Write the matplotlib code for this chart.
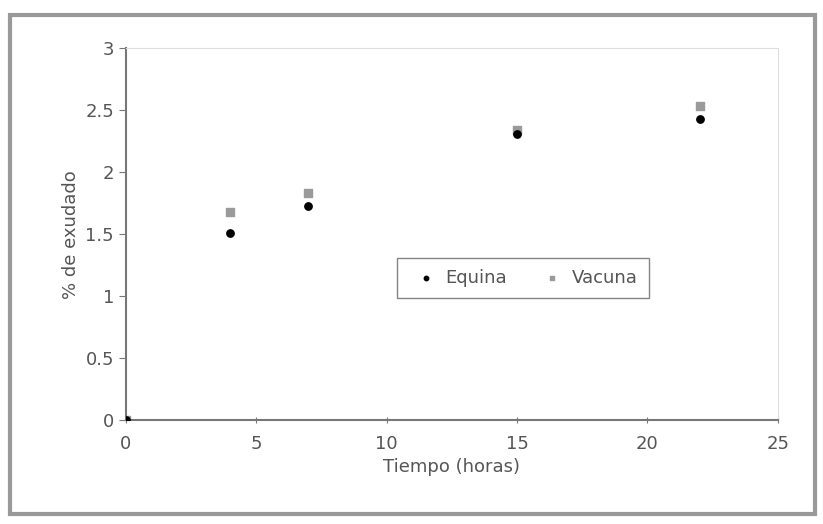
import matplotlib
matplotlib.use("Agg")
import matplotlib.pyplot as plt
from matplotlib.patches import Rectangle

# datos
tiempo = [0, 4, 7, 15, 22]
equina = [0, 1.51, 1.73, 2.31, 2.43]
vacuna = [0, 1.68, 1.83, 2.34, 2.53]

x_ticks = [0, 5, 10, 15, 20, 25]
y_ticks = [0, 0.5, 1, 1.5, 2, 2.5, 3]
y_labels = ["0", "0.5", "1", "1.5", "2", "2.5", "3"]

txt = "#555555"

fig = plt.figure(figsize=(8.23, 5.24), dpi=100)
ax = fig.add_axes([0.153, 0.198, 0.792, 0.71])

ax.scatter(tiempo, equina, marker="o", s=28, color="black", label="Equina", zorder=3)
ax.scatter(tiempo, vacuna, marker="s", s=30, color="#9a9a9a", label="Vacuna", zorder=2)

ax.set_xlim(0, 25)
ax.set_ylim(0, 3)
ax.set_xticks(x_ticks)
ax.set_yticks(y_ticks)
ax.set_yticklabels(y_labels)
ax.tick_params(axis="both", colors="#777777", labelcolor=txt, labelsize=13, length=5)
ax.tick_params(axis="x", direction="inout", pad=8)

for s in ["left", "bottom"]:
    ax.spines[s].set_color("#777777")
    ax.spines[s].set_linewidth(1.5)
for s in ["top", "right"]:
    ax.spines[s].set_color("#dddddd")

ax.set_xlabel("Tiempo (horas)", color=txt, fontsize=13)
ax.set_ylabel("% de exudado", color=txt, fontsize=13)

leg = ax.legend(loc="center", bbox_to_anchor=(0.609, 0.382), ncol=2, fontsize=13,
                frameon=True, fancybox=False, handletextpad=0.1, columnspacing=1.5,
                borderpad=0.6, markerscale=0.6)
leg.get_frame().set_edgecolor("#666666")
for t in leg.get_texts():
    t.set_color(txt)

# marco exterior
fig.patches.append(Rectangle((0.012, 0.02), 0.978, 0.952, transform=fig.transFigure,
                             fill=False, edgecolor="#999999", linewidth=3))

fig.savefig("out.png", dpi=100)
